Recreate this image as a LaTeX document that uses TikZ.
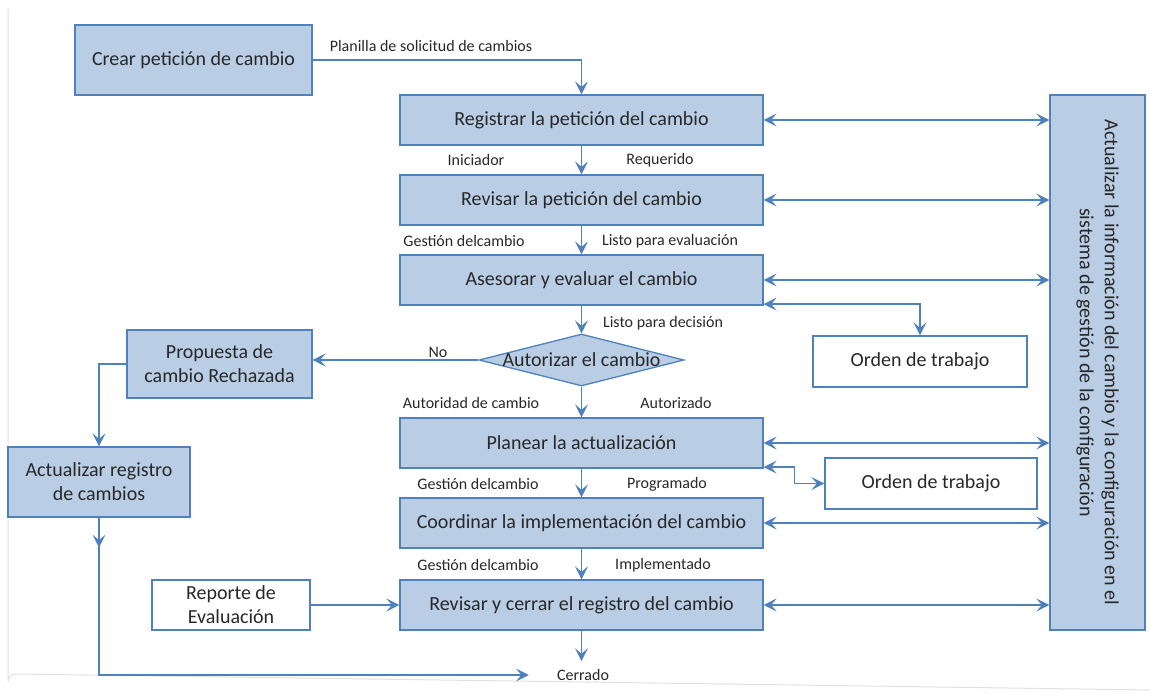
\documentclass[tikz,border=0pt]{standalone}
\usepackage{fontspec}
\setmainfont{Carlito}
\usetikzlibrary{arrows.meta,shapes.geometric,calc}
\definecolor{boxfill}{RGB}{185,205,229}
\definecolor{boxline}{RGB}{79,129,189}
\definecolor{txt}{RGB}{40,40,40}
\definecolor{framegray}{RGB}{225,225,225}
\tikzset{
  proc/.style={draw=boxline, fill=boxfill, line width=1.3pt, align=center, text=txt,
    font=\fontsize{20}{24}\selectfont, inner sep=0pt},
  wbox/.style={draw=boxline, fill=white, line width=1.3pt, align=center, text=txt,
    font=\fontsize{20}{24}\selectfont, inner sep=0pt},
  lbl/.style={text=txt, font=\fontsize{16}{18}\selectfont, inner sep=0pt},
  conn/.style={draw=boxline, line width=1.4pt},
  arr/.style={conn, -{Stealth[length=13pt,width=13pt,inset=5.5pt]}},
  arrb/.style={conn, {Stealth[length=13pt,width=13pt,inset=5.5pt]}-{Stealth[length=13pt,width=13pt,inset=5.5pt]}},
}
\begin{document}
\begin{tikzpicture}[x=1pt,y=-1pt]
\useasboundingbox (0,0) rectangle (1150,693);
% faint frame
\draw[framegray, line width=1pt] (8,9) -- (8,682) arc[start angle=180,end angle=270,radius=8] -- (1150,690);

% process boxes
\node[proc, minimum width=237, minimum height=70] (crear) at (193.5,60) {Crear petición de cambio};
\node[proc, minimum width=363, minimum height=50] (reg) at (581.5,120) {Registrar la petición del cambio};
\node[proc, minimum width=363, minimum height=50] (rev) at (581.5,200) {Revisar la petición del cambio};
\node[proc, minimum width=363, minimum height=50] (ase) at (581.5,280) {Asesorar y evaluar el cambio};
\node[proc, shape=diamond, aspect=3.9, minimum width=205, minimum height=52] (dia) at (581.5,360) {};
\node[text=txt, font=\fontsize{20}{24}\selectfont, inner sep=0pt] (diatxt) at (dia.center) {Autorizar el cambio};
\node[proc, minimum width=185, minimum height=68] (prop) at (219.5,364) {Propuesta de\\cambio Rechazada};
\node[proc, minimum width=182, minimum height=70] (act) at (99,482) {Actualizar registro\\de cambios};
\node[proc, minimum width=363, minimum height=50] (plan) at (581.5,443) {Planear la actualización};
\node[proc, minimum width=363, minimum height=50] (coord) at (581.5,523) {Coordinar la implementación del cambio};
\node[proc, minimum width=363, minimum height=50] (cerrar) at (581.5,605) {Revisar y cerrar el registro del cambio};
\node[wbox, minimum width=158, minimum height=50] (rep) at (231,605) {Reporte de\\Evaluación};
\node[wbox, minimum width=214, minimum height=51] (ord1) at (920,361.5) {Orden de trabajo};
\node[wbox, minimum width=212, minimum height=51] (ord2) at (931,483.5) {Orden de trabajo};
\node[proc, minimum width=95, minimum height=535] (big) at (1097.5,362.5) {};
\node[text=txt, font=\fontsize{20}{25}\selectfont, rotate=-90, align=center, inner sep=0pt] (bigtxt) at (big.center)
  {Actualizar la información del cambio y la configuración en el\\sistema de gestión de la configuración};
\node[lbl, inner xsep=28pt, inner ysep=8pt] (cerrado) at (583,675) {Cerrado};

% labels
\node[lbl] (l1) at (431,46) {Planilla de solicitud de cambios};
\node[lbl] (l2) at (476,160) {Iniciador};
\node[lbl] (l3) at (660,160) {Requerido};
\node[lbl] (l4) at (464,241) {Gestión delcambio};
\node[lbl] (l5) at (670,241) {Listo para evaluación};
\node[lbl] (l6) at (663,323) {Listo para decisión};
\node[lbl] (l7) at (438,352) {No};
\node[lbl] (l8) at (471,403) {Autoridad de cambio};
\node[lbl] (l9) at (676,403) {Autorizado};
\node[lbl] (l10) at (478,484) {Gestión delcambio};
\node[lbl] (l11) at (667,484) {Programado};
\node[lbl] (l12) at (478,565) {Gestión delcambio};
\node[lbl] (l13) at (663,565) {Implementado};

% main flow
\draw[arr] (crear.east) -| (reg.north);
\draw[arr] (reg.south) -- (rev.north);
\draw[arr] (rev.south) -- (ase.north);
\draw[arr] (ase.south) -- (dia.north);
\draw[arr] (dia.south) -- (plan.north);
\draw[arr] (plan.south) -- (coord.north);
\draw[arr] (coord.south) -- (cerrar.north);
\draw[arr] (cerrar.south) -- (cerrar.south |- cerrado.north);
\draw[arr] (dia.west) -- (dia.west -| prop.east);
\draw[arr] (prop.west) -| (act.north);
\draw[arr] (act.south) |- (cerrado.west);
\draw[arr] (act.south) -- ++(0,30);
\draw[arr] (rep.east) -- (cerrar.west);

% links to configuration system
\draw[arrb] (reg.east) -- (reg.east -| big.west);
\draw[arrb] (rev.east) -- (rev.east -| big.west);
\draw[arrb] (ase.east) -- (ase.east -| big.west);
\draw[arrb] (plan.east) -- (plan.east -| big.west);
\draw[arrb] (coord.east) -- (coord.east -| big.west);
\draw[arrb] (cerrar.east) -- (cerrar.east -| big.west);

% work orders
\draw[arrb] ([yshift=1.5pt]ase.south east) -| (ord1.north);
\draw[arrb] ([yshift=1.5pt]plan.south east) -- ++(31,0) |- (ord2.west);
\end{tikzpicture}
\end{document}
